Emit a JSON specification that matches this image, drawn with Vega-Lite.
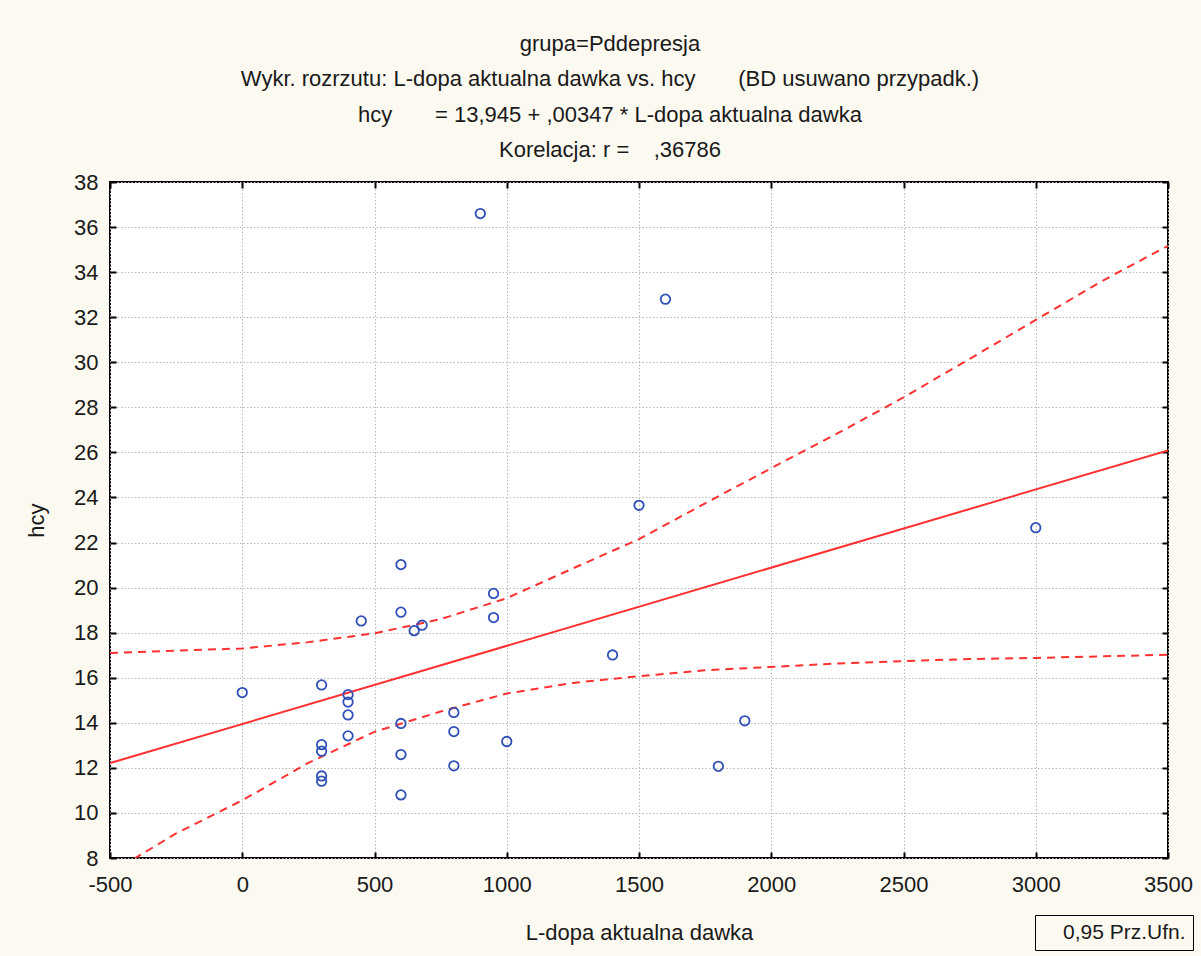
{
  "$schema": "https://vega.github.io/schema/vega-lite/v6.json",
  "width": 1058,
  "height": 676,
  "autosize": {"type": "none"},
  "padding": {"left": 110, "top": 182, "right": 33, "bottom": 98},
  "background": "#fcf9f0",
  "title": {
    "text": ["grupa=Pddepresja", "Wykr. rozrzutu: L-dopa aktualna dawka vs. hcy\u00a0\u00a0\u00a0\u00a0\u00a0\u00a0\u00a0(BD usuwano przypadk.)", "hcy\u00a0\u00a0\u00a0\u00a0\u00a0\u00a0\u00a0= 13,945 + ,00347 * L-dopa aktualna dawka", "Korelacja: r =\u00a0\u00a0\u00a0\u00a0,36786"],
    "anchor": "middle",
    "dx": -29,
    "offset": 9,
    "font": "Liberation Sans",
    "fontSize": 22,
    "fontWeight": "normal",
    "lineHeight": 35.5,
    "color": "#1a1a1a"
  },
  "config": {
    "view": {"stroke": "#000000", "strokeWidth": 2, "fill": "#ffffff"},
    "axis": {
      "labelFont": "Liberation Sans",
      "titleFont": "Liberation Sans",
      "labelFontSize": 22,
      "titleFontSize": 22,
      "titleFontWeight": "normal",
      "labelColor": "#1a1a1a",
      "titleColor": "#1a1a1a",
      "domain": false,
      "tickColor": "#000000",
      "tickWidth": 2,
      "tickSize": -6,
      "gridColor": "#b8b8b8",
      "gridDash": [1.5, 2],
      "gridWidth": 1
    }
  },
  "datasets": {
    "pts": [
      {"dawka": 0, "hcy": 15.34},
      {"dawka": 300, "hcy": 15.68},
      {"dawka": 300, "hcy": 13.03},
      {"dawka": 300, "hcy": 12.74},
      {"dawka": 300, "hcy": 11.64},
      {"dawka": 300, "hcy": 11.41},
      {"dawka": 400, "hcy": 15.25},
      {"dawka": 400, "hcy": 14.92},
      {"dawka": 400, "hcy": 14.35},
      {"dawka": 400, "hcy": 13.42},
      {"dawka": 450, "hcy": 18.52},
      {"dawka": 600, "hcy": 21.02},
      {"dawka": 600, "hcy": 18.91},
      {"dawka": 600, "hcy": 13.97},
      {"dawka": 600, "hcy": 12.59},
      {"dawka": 600, "hcy": 10.8},
      {"dawka": 650, "hcy": 18.09},
      {"dawka": 680, "hcy": 18.33},
      {"dawka": 800, "hcy": 14.46},
      {"dawka": 800, "hcy": 13.61},
      {"dawka": 800, "hcy": 12.09},
      {"dawka": 900, "hcy": 36.6},
      {"dawka": 950, "hcy": 19.74},
      {"dawka": 950, "hcy": 18.67},
      {"dawka": 1000, "hcy": 13.17},
      {"dawka": 1400, "hcy": 17.01},
      {"dawka": 1500, "hcy": 23.65},
      {"dawka": 1600, "hcy": 32.8},
      {"dawka": 1800, "hcy": 12.07},
      {"dawka": 1900, "hcy": 14.09},
      {"dawka": 3000, "hcy": 22.66}
    ],
    "fit": [
      {"dawka": -500, "hcy": 12.21},
      {"dawka": 3500, "hcy": 26.09}
    ],
    "band": [
      {"dawka": -500, "hcy": 17.1, "bound": "upper", "series": "0,95 Prz.Ufn."},
      {"dawka": -250, "hcy": 17.2, "bound": "upper", "series": "0,95 Prz.Ufn."},
      {"dawka": 0, "hcy": 17.3, "bound": "upper", "series": "0,95 Prz.Ufn."},
      {"dawka": 250, "hcy": 17.58, "bound": "upper", "series": "0,95 Prz.Ufn."},
      {"dawka": 500, "hcy": 17.97, "bound": "upper", "series": "0,95 Prz.Ufn."},
      {"dawka": 750, "hcy": 18.6, "bound": "upper", "series": "0,95 Prz.Ufn."},
      {"dawka": 1000, "hcy": 19.53, "bound": "upper", "series": "0,95 Prz.Ufn."},
      {"dawka": 1250, "hcy": 20.85, "bound": "upper", "series": "0,95 Prz.Ufn."},
      {"dawka": 1500, "hcy": 22.15, "bound": "upper", "series": "0,95 Prz.Ufn."},
      {"dawka": 1750, "hcy": 23.74, "bound": "upper", "series": "0,95 Prz.Ufn."},
      {"dawka": 2000, "hcy": 25.3, "bound": "upper", "series": "0,95 Prz.Ufn."},
      {"dawka": 2250, "hcy": 26.84, "bound": "upper", "series": "0,95 Prz.Ufn."},
      {"dawka": 2500, "hcy": 28.44, "bound": "upper", "series": "0,95 Prz.Ufn."},
      {"dawka": 2750, "hcy": 30.15, "bound": "upper", "series": "0,95 Prz.Ufn."},
      {"dawka": 3000, "hcy": 31.88, "bound": "upper", "series": "0,95 Prz.Ufn."},
      {"dawka": 3250, "hcy": 33.6, "bound": "upper", "series": "0,95 Prz.Ufn."},
      {"dawka": 3500, "hcy": 35.17, "bound": "upper", "series": "0,95 Prz.Ufn."},
      {"dawka": -500, "hcy": 7.32, "bound": "lower", "series": "0,95 Prz.Ufn."},
      {"dawka": -250, "hcy": 9.09, "bound": "lower", "series": "0,95 Prz.Ufn."},
      {"dawka": 0, "hcy": 10.56, "bound": "lower", "series": "0,95 Prz.Ufn."},
      {"dawka": 250, "hcy": 12.22, "bound": "lower", "series": "0,95 Prz.Ufn."},
      {"dawka": 500, "hcy": 13.6, "bound": "lower", "series": "0,95 Prz.Ufn."},
      {"dawka": 750, "hcy": 14.5, "bound": "lower", "series": "0,95 Prz.Ufn."},
      {"dawka": 1000, "hcy": 15.3, "bound": "lower", "series": "0,95 Prz.Ufn."},
      {"dawka": 1250, "hcy": 15.77, "bound": "lower", "series": "0,95 Prz.Ufn."},
      {"dawka": 1500, "hcy": 16.07, "bound": "lower", "series": "0,95 Prz.Ufn."},
      {"dawka": 1750, "hcy": 16.33, "bound": "lower", "series": "0,95 Prz.Ufn."},
      {"dawka": 2000, "hcy": 16.48, "bound": "lower", "series": "0,95 Prz.Ufn."},
      {"dawka": 2250, "hcy": 16.63, "bound": "lower", "series": "0,95 Prz.Ufn."},
      {"dawka": 2500, "hcy": 16.74, "bound": "lower", "series": "0,95 Prz.Ufn."},
      {"dawka": 2750, "hcy": 16.83, "bound": "lower", "series": "0,95 Prz.Ufn."},
      {"dawka": 3000, "hcy": 16.88, "bound": "lower", "series": "0,95 Prz.Ufn."},
      {"dawka": 3250, "hcy": 16.95, "bound": "lower", "series": "0,95 Prz.Ufn."},
      {"dawka": 3500, "hcy": 17.02, "bound": "lower", "series": "0,95 Prz.Ufn."}
    ]
  },
  "resolve": {"axis": {"x": "independent", "y": "independent"}},
  "layer": [
    {
      "data": {"name": "band"},
      "mark": {"type": "line", "clip": true, "strokeWidth": 2, "strokeDash": [8, 6]},
      "encoding": {
        "x": {"field": "dawka", "type": "quantitative", "scale": {"domain": [-500, 3500], "nice": false, "zero": false},
          "axis": {"orient": "bottom", "values": [-500, 0, 500, 1000, 1500, 2000, 2500, 3000, 3500], "labelExpr": "datum.value + ''", "title": "L-dopa aktualna dawka", "grid": true, "labelPadding": 22, "titlePadding": 27, "labelFlush": false}},
        "y": {"field": "hcy", "type": "quantitative", "scale": {"domain": [8, 38], "nice": false, "zero": false},
          "axis": {"orient": "left", "values": [8, 10, 12, 14, 16, 18, 20, 22, 24, 26, 28, 30, 32, 34, 36, 38], "title": "hcy", "grid": true, "labelPadding": 18, "titlePadding": 25, "labelFlush": false}},
        "detail": {"field": "bound"},
        "color": {"field": "series", "type": "nominal", "scale": {"domain": ["0,95 Prz.Ufn."], "range": ["#ff3030"]},
          "legend": {"orient": "none", "legendX": 925, "legendY": 733, "title": null, "strokeColor": "#000000", "padding": 7, "symbolSize": 0, "symbolStrokeWidth": 0, "symbolOpacity": 0, "labelOffset": 0, "labelFont": "Liberation Sans", "labelFontSize": 21, "labelColor": "#1a1a1a", "fillColor": "#fcf9f0"}}
      }
    },
    {
      "data": {"name": "fit"},
      "mark": {"type": "line", "clip": true, "strokeWidth": 2, "color": "#ff3030"},
      "encoding": {
        "x": {"field": "dawka", "type": "quantitative",
          "axis": {"orient": "top", "values": [-500, 0, 500, 1000, 1500, 2000, 2500, 3000, 3500], "title": null, "labels": false, "grid": false}},
        "y": {"field": "hcy", "type": "quantitative",
          "axis": {"orient": "right", "values": [8, 10, 12, 14, 16, 18, 20, 22, 24, 26, 28, 30, 32, 34, 36, 38], "title": null, "labels": false, "grid": false}}
      }
    },
    {
      "data": {"name": "pts"},
      "mark": {"type": "point", "shape": "circle", "filled": false, "size": 90, "strokeWidth": 1.8, "color": "#3050b8", "opacity": 1},
      "encoding": {
        "x": {"field": "dawka", "type": "quantitative", "axis": null},
        "y": {"field": "hcy", "type": "quantitative", "axis": null}
      }
    }
  ]
}
